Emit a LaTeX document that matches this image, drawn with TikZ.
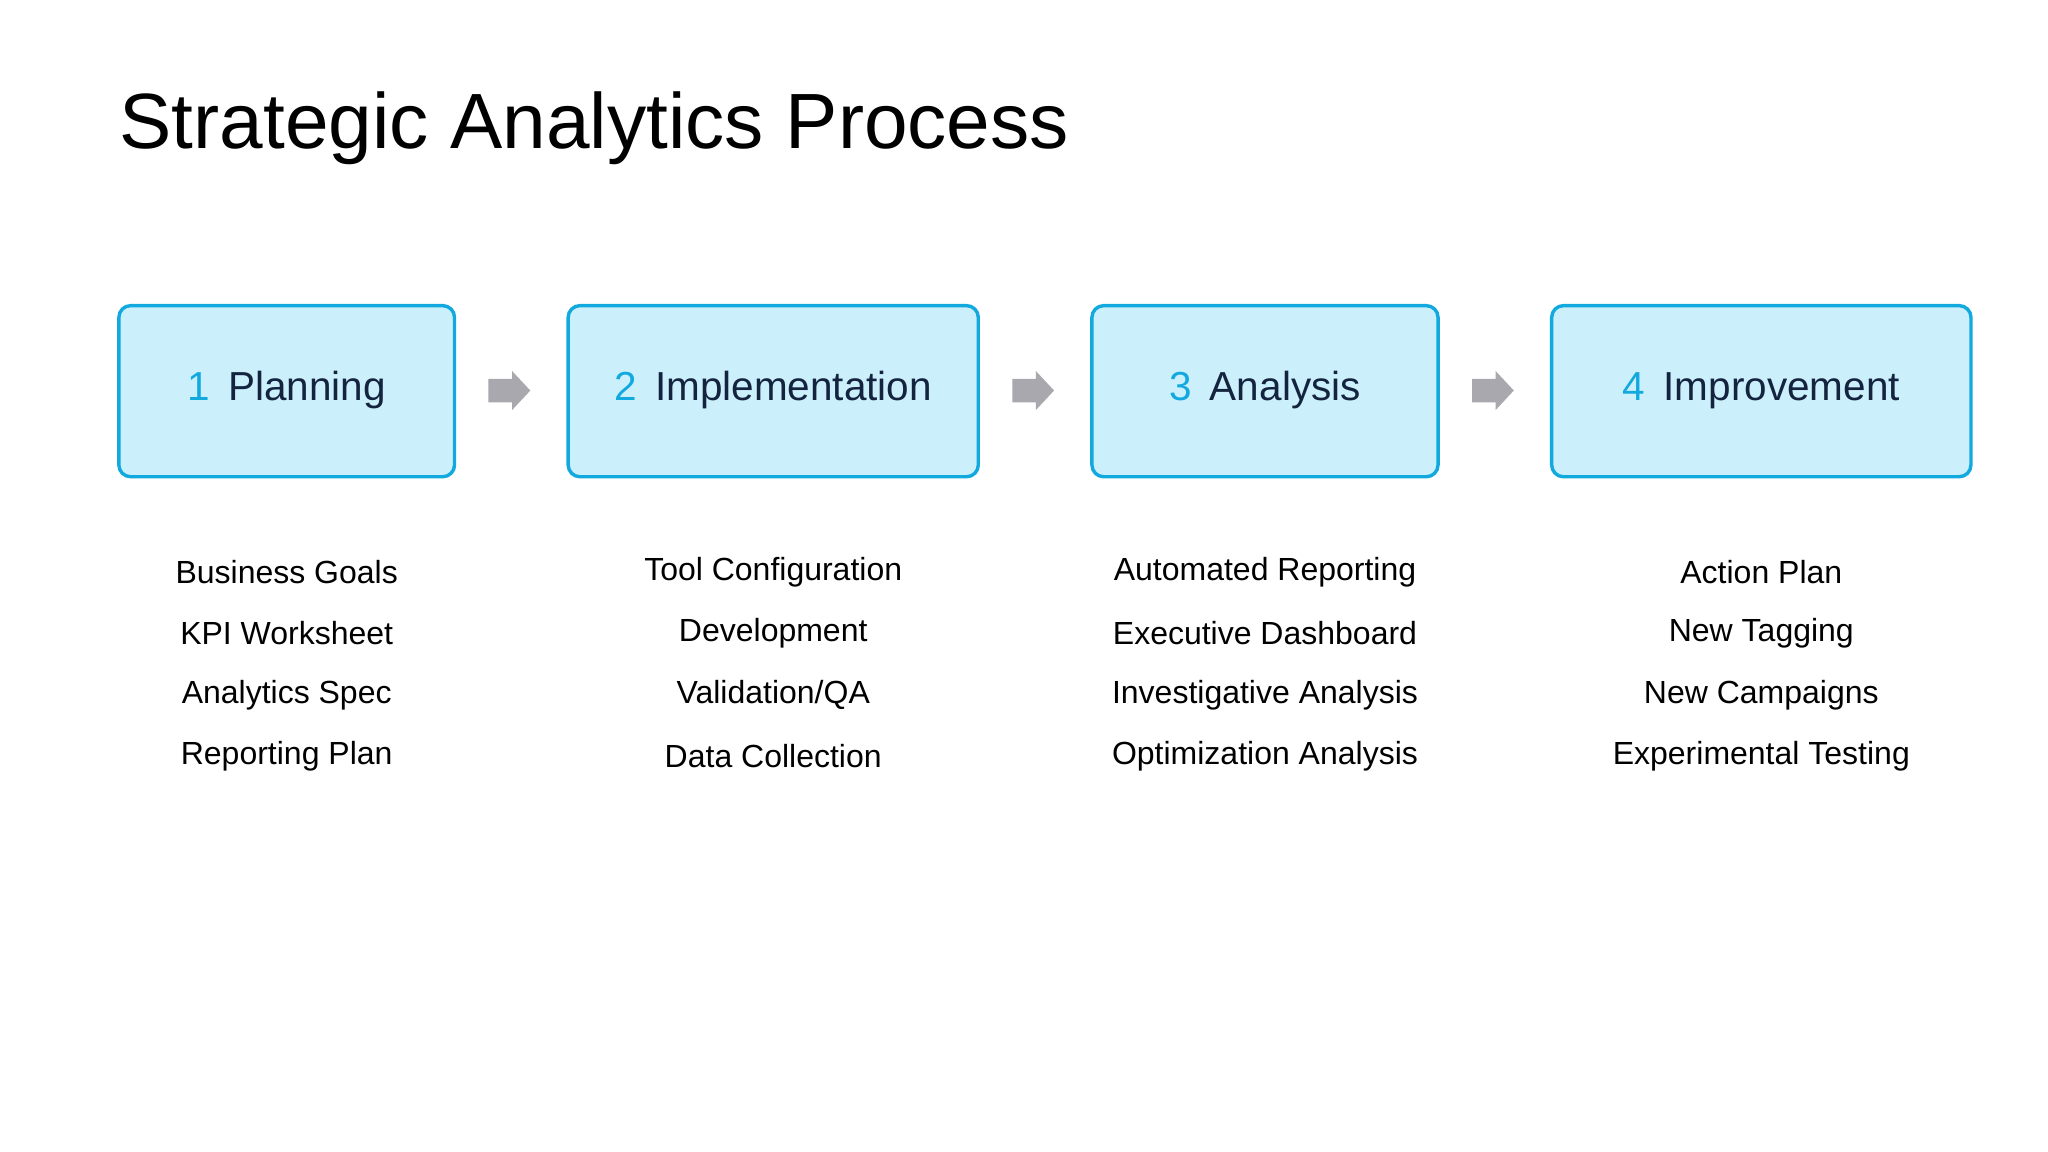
\documentclass[tikz,border=0pt]{standalone}
\usepackage{fontspec}
\setmainfont{Liberation Sans}
\definecolor{boxfill}{HTML}{CCEFFC}
\definecolor{boxline}{HTML}{12A9DF}
\definecolor{numc}{HTML}{12A9DF}
\definecolor{labc}{HTML}{14243F}
\definecolor{arrc}{HTML}{A8A8AE}
\begin{document}
\begin{tikzpicture}[x=1pt,y=-1pt,
  stage/.style={draw=boxline,line width=2.6pt,fill=boxfill,rounded corners=9pt},
  stagetext/.style={font=\fontsize{31}{36}\selectfont,text=labc},
  item/.style={font=\fontsize{24.5}{28}\selectfont,text=black},
  blockarrow/.style={fill=arrc}]
\useasboundingbox (0,0) rectangle (1568,882);
\fill[white] (0,0) rectangle (1568,882);
\node[anchor=west,font=\fontsize{60}{70}\selectfont] (title) at (88,98) {Strategic Analytics Process};
\foreach \n/\a/\b/\num/\lab/\i/\j/\k/\l in {
 p/91/348/1/Planning/Business Goals/KPI Worksheet/Analytics Spec/Reporting Plan,
 m/435/749/2/Implementation/Tool Configuration/Development/Validation\slash QA/Data Collection,
 a/836/1101/3/Analysis/Automated Reporting/Executive Dashboard/Investigative Analysis/Optimization Analysis,
 v/1188/1509/4/Improvement/Action Plan/New Tagging/New Campaigns/Experimental Testing}{
  \draw[stage] (\a,234) rectangle (\b,365);
  \node[stagetext] (\n) at ({(\a+\b)/2},299) {\textcolor{numc}{\num}\hspace{0.45em}\lab};
  \node[item] (\n1) at ({(\a+\b)/2},438) {\i};
  \node[item] (\n2) at ({(\a+\b)/2},485) {\j};
  \node[item] (\n3) at ({(\a+\b)/2},532) {\k};
  \node[item] (\n4) at ({(\a+\b)/2},579) {\l};
}
\foreach \x in {374,775,1127}{
  \fill[blockarrow] (\x,290) -- (\x+18,290) -- (\x+18,284) -- (\x+32,299) -- (\x+18,314) -- (\x+18,308) -- (\x,308) -- cycle;
}
\end{tikzpicture}
\end{document}
